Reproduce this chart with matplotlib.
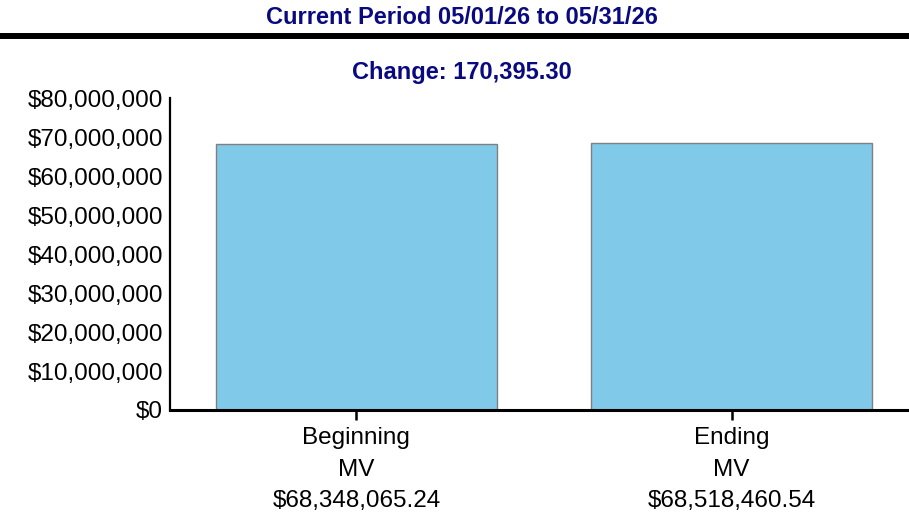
import matplotlib
matplotlib.use('Agg')
import matplotlib.pyplot as plt
from matplotlib.ticker import FuncFormatter

# chart data
categories = ['Beginning\nMV', 'Ending\nMV']
values = [68348065.24, 68518460.54]
yticks = [0, 10000000, 20000000, 30000000, 40000000, 50000000, 60000000, 70000000, 80000000]
period_title = 'Current Period 05/01/26 to 05/31/26'

navy = '#0a0a80'
bar_color = '#80c9e8'

plt.rcParams['font.family'] = ['Liberation Sans', 'DejaVu Sans']

fig = plt.figure(figsize=(9.09, 5.24), dpi=100)
ax = fig.add_axes([0.187, 0.2176, 0.813, 0.595])

x = list(range(len(values)))
ax.bar(x, values, width=0.75, color=bar_color, edgecolor='#808080', linewidth=1)

ax.set_xlim(-0.497, 1.473)
ax.set_ylim(0, 80000000)
ax.set_yticks(yticks)
ax.yaxis.set_major_formatter(FuncFormatter(lambda v, p: '${:,.0f}'.format(v)))

# x labels carry the values too
labels = [c + '\n${:,.2f}'.format(v) for c, v in zip(categories, values)]
ax.set_xticks(x)
ax.set_xticklabels(labels, fontsize=17.5, linespacing=1.58)

ax.tick_params(axis='y', length=0, pad=5, labelsize=17.5)
ax.tick_params(axis='x', length=7, width=1.8, pad=5, color='black')

for s in ['top', 'right']:
    ax.spines[s].set_visible(False)
ax.spines['left'].set_linewidth(1.6)
ax.spines['bottom'].set_linewidth(2.2)

# header texts
fig.text(0.508, 0.966, period_title, ha='center', va='center', fontsize=17,
         fontweight='bold', color=navy)
fig.add_artist(plt.Line2D([0, 1], [0.931, 0.931], color='black', linewidth=4.3, transform=fig.transFigure))
change = values[1] - values[0]
fig.text(0.508, 0.861, 'Change: {:,.2f}'.format(change), ha='center', va='center', fontsize=17,
         fontweight='bold', color=navy)

fig.savefig('out.png', dpi=100)
